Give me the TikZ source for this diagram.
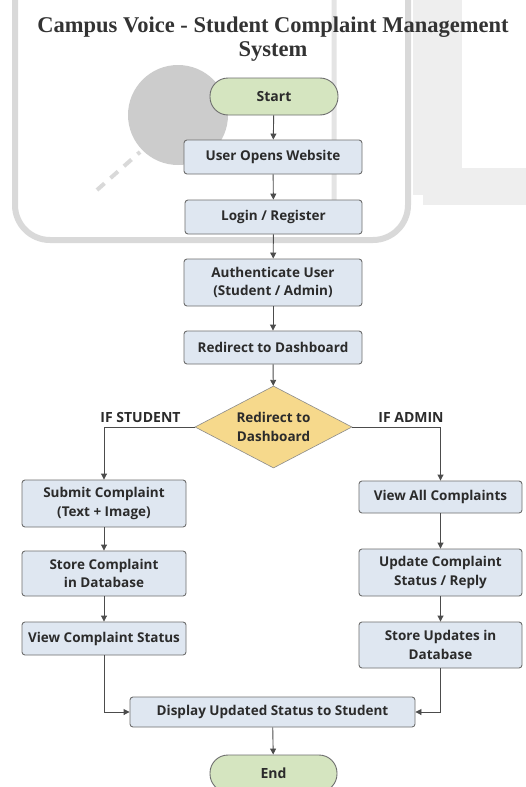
\documentclass[tikz,border=0pt]{standalone}
\usepackage{fontspec}
\setmainfont{Open Sans}
\newfontfamily\titlefont{Liberation Serif}
\usetikzlibrary{arrows.meta,shapes.geometric,positioning}
\definecolor{boxfill}{HTML}{DFE7F1}
\definecolor{boxline}{HTML}{6E6E6E}
\definecolor{termfill}{HTML}{D5E5C0}
\definecolor{decfill}{HTML}{F6D98C}
\definecolor{txt}{HTML}{2B2B2B}
\definecolor{wm}{HTML}{D9D9D9}
\definecolor{wmlight}{HTML}{EEEEEE}
\begin{document}
\begin{tikzpicture}[x=1pt,y=-1pt,
  every node/.style={text=txt},
  procbox/.style={draw=boxline, fill=boxfill, line width=0.9pt, rounded corners=3pt,
    align=center, inner sep=0pt, font=\bfseries\fontsize{13.5}{18.5}\selectfont},
  termbox/.style={draw=boxline, fill=termfill, line width=0.9pt, rounded corners=18pt,
    align=center, inner sep=0pt, minimum width=128pt, minimum height=37pt,
    font=\bfseries\fontsize{14}{16}\selectfont},
  decbox/.style={diamond, draw=boxline!80, fill=decfill, line width=0.6pt, aspect=1.9,
    align=center, inner sep=0pt, minimum width=157pt, minimum height=82pt,
    font=\bfseries\fontsize{13.5}{19.5}\selectfont},
  branchlbl/.style={font=\bfseries\fontsize{14}{16}\selectfont, inner sep=0pt},
  conn/.style={draw=black!70, line width=0.9pt, -{Triangle[length=6pt,width=6pt]}},
]
\useasboundingbox (0,0) rectangle (526,787);
\fill[white] (0,0) rectangle (526,787);
% faint watermark background
\fill[wmlight] (413,0) rectangle (462,195);
\fill[wmlight] (423,168) rectangle (526,205);
\draw[wm, line width=6pt, rounded corners=35pt] (15,-40) -- (15,240) -- (408,240) -- (408,-40);
\draw[wm!70, line width=5pt, rounded corners=20pt] (334,-10) -- (334,225) -- (200,225);
\fill[black!20] (178,115) circle (50);
\draw[black!15, line width=4pt, dash pattern=on 10pt off 8pt] (97,190) -- (140,152);
% title
\node[font=\titlefont\bfseries\fontsize{22.5}{24.5}\selectfont, text=black!80, align=center, inner sep=0pt]
  (title) at (273,39) {Campus Voice - Student Complaint Management\\System};
% nodes
\node[termbox] (start) at (274,96.5) {Start};
\node[procbox, minimum width=178pt, minimum height=34pt] (web) at (273,157) {User Opens Website};
\node[procbox, minimum width=177pt, minimum height=34pt] (login) at (273.5,217) {Login / Register};
\node[procbox, minimum width=178pt, minimum height=47pt] (auth) at (273,282.5) {Authenticate User\\(Student / Admin)};
\node[procbox, minimum width=178pt, minimum height=33pt] (redir) at (273,347.5) {Redirect to Dashboard};
\node[decbox] (dec) at (273.5,427) {Redirect to\\Dashboard};
\node[procbox, minimum width=164pt, minimum height=47pt] (submit) at (104,503.5) {Submit Complaint\\(Text + Image)};
\node[procbox, minimum width=164pt, minimum height=45pt] (store) at (104,573.5) {Store Complaint\\in Database};
\node[procbox, minimum width=164pt, minimum height=33pt] (viewst) at (104,638.5) {View Complaint Status};
\node[procbox, minimum width=163pt, minimum height=32pt] (viewall) at (440.5,497) {View All Complaints};
\node[procbox, minimum width=163pt, minimum height=47pt] (update) at (440.5,572.5) {Update Complaint\\Status / Reply};
\node[procbox, minimum width=163pt, minimum height=46pt] (storeup) at (440.5,645) {Store Updates in\\Database};
\node[procbox, minimum width=285pt, minimum height=30pt] (display) at (272.5,712) {Display Updated Status to Student};
\node[termbox, minimum width=127pt] (end) at (273.5,773.5) {End};
\node[branchlbl] (lstu) at (140.5,417) {IF STUDENT};
\node[branchlbl] (ladm) at (411,417) {IF ADMIN};
% connectors
\draw[conn] (start) -- (web);
\draw[conn] (web) -- (login);
\draw[conn] (login) -- (auth);
\draw[conn] (auth) -- (redir);
\draw[conn] (redir) -- (dec);
\draw[conn] (dec.west) -| (submit.north);
\draw[conn] (dec.east) -| (viewall.north);
\draw[conn] (submit) -- (store);
\draw[conn] (store) -- (viewst);
\draw[conn] (viewall) -- (update);
\draw[conn] (update) -- (storeup);
\draw[conn] (viewst.south) |- (display.west);
\draw[conn] (storeup.south) |- (display.east);
\draw[conn] (display) -- (end);
\end{tikzpicture}
\end{document}
